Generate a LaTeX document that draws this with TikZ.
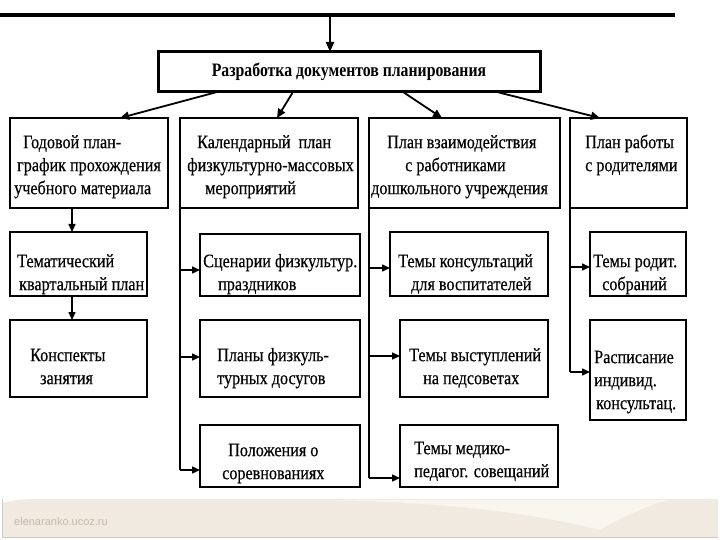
\documentclass[tikz,border=0pt]{standalone}
\usepackage{fontspec}
\setmainfont{Liberation Serif}[FakeStretch=0.85,FakeBold=0.4]
\newfontfamily\titlefont{Liberation Serif}[FakeStretch=0.83]
\newfontfamily\footfont{Liberation Sans}
\usetikzlibrary{arrows.meta,calc}
\definecolor{footbg}{RGB}{240,234,224}
\definecolor{footlight}{RGB}{249,246,240}
\definecolor{footline}{RGB}{205,200,192}
\definecolor{foottext}{RGB}{196,186,172}
\newcommand\fl{\rule{0pt}{16pt}}
\begin{document}
\begin{tikzpicture}[x=1pt,y=-1pt,
  box/.style={draw, line width=1.4pt, anchor=north west, inner sep=0pt, outer sep=0pt},
  txt/.style={anchor=north west, inner sep=0pt, align=left, font=\fontsize{19}{23}\selectfont},
  conn/.style={line width=1.5pt, -{Triangle[length=8pt,width=7pt]}},
  bigconn/.style={line width=1.8pt, -{Triangle[length=9pt,width=8pt]}},
  trunk/.style={line width=1.6pt},
]
\useasboundingbox (0,0) rectangle (720,540);
\fill[white] (0,0) rectangle (720,540);

% footer
\fill[footbg] (2,537) -- (2,503) .. controls (20,499) .. (60,499) -- (718,499) -- (718,537) -- cycle;
\fill[footlight] (300,500) .. controls (430,500) and (530,512) .. (600,530) .. controls (625,515) and (650,505) .. (668,500) -- cycle;
\draw[footline, line width=1pt] (2,499) -- (2,537) -- (718,537);
\node[anchor=west, inner sep=0pt, font=\footfont\fontsize{11}{12}\selectfont, text=foottext] (foot) at (14,522) {elenaranko.ucoz.ru};

% top bar
\coordinate (L0) at (0,15);
\coordinate (L1) at (675,15);
\coordinate (Lm) at (330,15);
\draw[line width=4pt] (L0) -- (L1);

% boxes
\node[box, line width=3pt, minimum width=382pt, minimum height=40pt,
      font=\titlefont\bfseries\fontsize{19}{22}\selectfont] (T) at (158,52) {Разработка документов планирования};
\draw[line width=2.2pt, -{Triangle[length=10pt,width=8pt]}] (Lm) -- (Lm |- T.north);

\node[box, minimum width=158pt, minimum height=90pt] (A) at (10,118) {};
\node[box, minimum width=178pt, minimum height=90pt] (B) at (180,118) {};
\node[box, minimum width=191pt, minimum height=90pt] (C) at (369,118) {};
\node[box, minimum width=117pt, minimum height=90pt] (D) at (570,118) {};

\node[box, minimum width=137pt, minimum height=64pt] (A2) at (10,232) {};
\node[box, minimum width=160pt, minimum height=62pt] (B2) at (200,234) {};
\node[box, minimum width=158pt, minimum height=64pt] (C2) at (390,232) {};
\node[box, minimum width=96pt, minimum height=64pt] (D2) at (590,232) {};

\node[box, minimum width=137pt, minimum height=77pt] (A3) at (10,320) {};
\node[box, minimum width=160pt, minimum height=77pt] (B3) at (200,320) {};
\node[box, minimum width=148pt, minimum height=77pt] (C3) at (400,320) {};
\node[box, minimum width=96pt, minimum height=100pt] (D3) at (590,320) {};

\node[box, minimum width=160pt, minimum height=62pt] (B4) at (200,425) {};
\node[box, minimum width=158pt, minimum height=62pt] (C4) at (400,425) {};

% texts
\node[txt] (At) at (14,132) {\fl\hspace*{9pt}Годовой план-\\\hspace*{3pt}график прохождения\\учебного материала};
\node[txt] (Bt) at (187,132) {\fl\hspace*{10pt}Календарный\ \ план\\физкультурно-массовых\\\hspace*{18pt}мероприятий};
\node[txt] (Ct) at (371,132) {\fl\hspace*{16pt}План взаимодействия\\\hspace*{34pt}с работниками\\дошкольного учреждения};
\node[txt] (Dt) at (585,132) {\fl План работы\\с родителями};

\node[txt] (A2t) at (17,251) {\fl Тематический\\\hspace*{2pt}квартальный план};
\node[txt] (B2t) at (203,251) {\fl Сценарии физкультур.\\\hspace*{15pt}праздников};
\node[txt] (C2t) at (398,251) {\fl Темы консультаций\\\hspace*{13pt}для воспитателей};
\node[txt] (D2t) at (593,251) {\fl Темы родит.\\\hspace*{9pt}собраний};

\node[txt] (A3t) at (30,345) {\fl Конспекты\\\hspace*{10pt}занятия};
\node[txt] (B3t) at (217,345) {\fl Планы физкуль-\\турных досугов};
\node[txt] (C3t) at (409,345) {\fl Темы выступлений\\\hspace*{14pt}на педсоветах};
\node[txt] (D3t) at (594,347) {\fl Расписание\\индивид.\\\hspace*{2pt}консультац.};

\node[txt] (B4t) at (222,440) {\fl\hspace*{6pt}Положения о\\соревнованиях};
\node[txt] (C4t) at (414,438) {\fl Темы медико-\\педагог. совещаний};

% arrows from title
\draw[bigconn] ($(T.south west)+(59,0)$) -- ($(A.north west)+(110,0)$);
\draw[bigconn] ($(T.south west)+(135,0)$) -- ($(B.north west)+(97,0)$);
\draw[bigconn] ($(T.south west)+(245,0)$) -- ($(C.north west)+(73,0)$);
\draw[bigconn] ($(T.south west)+(339,0)$) -- ($(D.north west)+(30,0)$);

% column A
\draw[conn] ($(A.south west)+(62,0)$) -- ($(A2.north west)+(62,0)$);
\draw[conn] ($(A2.south west)+(62,0)$) -- ($(A3.north west)+(62,0)$);

% column B
\coordinate (b2) at (180,270);
\coordinate (b3) at (180,357);
\coordinate (b4) at (180,470);
\draw[trunk] (B.south west) -- (b4);
\draw[conn] (b2) -- (b2 -| B2.west);
\draw[conn] (b3) -- (b3 -| B3.west);
\draw[conn] (b4) -- (b4 -| B4.west);

% column C
\coordinate (c2) at (369,268);
\coordinate (c3) at (369,356);
\coordinate (c4) at (369,478);
\draw[trunk] (C.south west) -- (c4);
\draw[conn] (c2) -- (c2 -| C2.west);
\draw[conn] (c3) -- (c3 -| C3.west);
\draw[conn] (c4) -- (c4 -| C4.west);

% column D
\coordinate (d2) at (570,267);
\coordinate (d3) at (570,372);
\draw[trunk] (D.south west) -- (d3);
\draw[conn] (d2) -- (d2 -| D2.west);
\draw[conn] (d3) -- (d3 -| D3.west);
\end{tikzpicture}
\end{document}
